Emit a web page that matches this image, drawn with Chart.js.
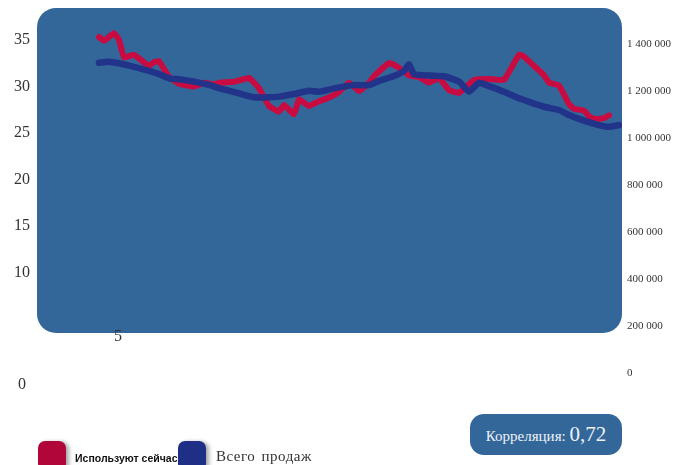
<!DOCTYPE html>
<html>
<head>
<meta charset="utf-8">
<script src="https://cdn.jsdelivr.net/npm/chart.js@4"></script>
<style>
    body { margin: 0; background: #fff; }
    .wrap { position: relative; width: 678px; height: 465px; overflow: hidden; }
    canvas { position: absolute; left: 0; top: 0; }
    .swatch { position: absolute; top: 441px; width: 28px; height: 30px; border-radius: 7px; box-shadow: 3px 1px 4px rgba(0,0,0,0.35); }
    .lbl { position: absolute; white-space: nowrap; }
    .corr { position: absolute; left: 470px; top: 414px; width: 152px; height: 41px; border-radius: 14px; background: #33679a; color: #eef2f7; font-family: "Liberation Serif", serif; font-size: 15px; line-height: 41px; text-align: center; }
    .corr b { font-weight: normal; font-size: 21px; }
</style>
</head>
<body>
<div class="wrap">
    <canvas id="chart" width="678" height="465"></canvas>
    <div class="lbl" style="left:75px; top:452px; font-family:'Liberation Sans',sans-serif; font-weight:bold; font-size:10.5px; color:#111;">Используют сейчас</div>
    <div class="swatch" style="left:38px; background:#b0063a;"></div>
    <div class="swatch" style="left:178px; background:#1e2f85;"></div>
    <div class="lbl" style="left:216px; top:448px; font-family:'Liberation Serif',serif; font-size:15px; letter-spacing:0.5px; word-spacing:2px; color:#333;">Всего продаж</div>
    <div class="corr">Корреляция: <b>0,72</b></div>
</div>
<script>
// неделя (условный номер) и доля тех, кто использует сейчас, %
const usingWeeks = [0, 1, 3, 4, 5, 7, 8, 10, 11, 12, 14, 16, 19, 21, 23, 24, 27, 30, 32, 34, 36, 37, 39, 40, 42, 44, 46, 48, 50, 52, 54, 55, 58, 60, 62, 64, 66, 68, 70, 72, 75, 78, 81, 84, 85, 87, 89, 90, 92, 94, 95, 97, 98, 99, 101, 102];
const usingNow = [35.3, 34.9, 35.7, 35.0, 33.1, 33.4, 33.0, 32.2, 32.6, 32.7, 31.0, 30.3, 30.0, 30.4, 30.2, 30.4, 30.5, 30.9, 29.8, 27.9, 27.3, 28.0, 27.0, 28.6, 27.9, 28.4, 28.8, 29.4, 30.4, 29.5, 30.4, 31.1, 32.5, 32.0, 31.2, 31.0, 30.4, 30.9, 29.6, 29.3, 30.7, 30.8, 30.7, 33.4, 33.2, 32.2, 31.2, 30.4, 30.1, 28.1, 27.6, 27.4, 26.8, 26.5, 26.6, 26.9];

// всего продаж
const salesWeeks = [0, 2, 4, 7, 10, 12, 14, 16, 19, 22, 24, 28, 31, 34, 36, 39, 42, 44, 47, 51, 54, 56, 59, 61, 62, 63, 66, 69, 72, 74, 76, 78, 81, 84, 86, 89, 92, 94, 97, 100, 102, 104];
const totalSales = [1320000, 1325000, 1318000, 1303000, 1286000, 1272000, 1254000, 1250000, 1240000, 1226000, 1212000, 1190000, 1173000, 1173000, 1176000, 1187000, 1201000, 1197000, 1211000, 1225000, 1225000, 1243000, 1264000, 1285000, 1313000, 1272000, 1266000, 1263000, 1240000, 1197000, 1235000, 1221000, 1197000, 1169000, 1154000, 1133000, 1119000, 1098000, 1074000, 1055000, 1048000, 1055000];

const leftTicks = [10, 15, 20, 25, 30, 35];
const rightTicks = [0, 200000, 400000, 600000, 800000, 1000000, 1200000, 1400000];

const plotBg = {
    id: 'plotBg',
    beforeDatasetsDraw(chart) {
        const { ctx, chartArea } = chart;
        const x = chartArea.left, y = chartArea.top;
        const w = chartArea.right - chartArea.left, h = 325, r = 19;
        ctx.save();
        ctx.fillStyle = '#33679a';
        ctx.beginPath();
        ctx.moveTo(x + r, y);
        ctx.arcTo(x + w, y, x + w, y + h, r);
        ctx.arcTo(x + w, y + h, x, y + h, r);
        ctx.arcTo(x, y + h, x, y, r);
        ctx.arcTo(x, y, x + w, y, r);
        ctx.closePath();
        ctx.fill();
        ctx.restore();
    },
    afterDraw(chart) {
        // подписи 5 и 0 на левой оси смещены, как в оригинале
        const ctx = chart.ctx;
        ctx.save();
        ctx.font = '16px "Liberation Serif", serif';
        ctx.fillStyle = '#333';
        ctx.textAlign = 'center';
        ctx.textBaseline = 'middle';
        ctx.fillText('5', 118, 337);
        ctx.fillText('0', 22, 385);
        ctx.restore();
    }
};

const toPoints = (xs, ys) => xs.map((x, i) => ({ x: x, y: ys[i] }));

function fixWidth(w) {
    return axis => {
        axis.width = w;
        axis.paddingTop = 0;
        axis.paddingBottom = 0;
    };
}

const chart = new Chart(document.getElementById('chart'), {
    type: 'line',
    data: {
        datasets: [{
            label: 'Всего продаж',
            data: toPoints(salesWeeks, totalSales),
            yAxisID: 'right',
            borderColor: '#22338a',
            borderWidth: 6.5,
            pointRadius: 0,
            borderJoinStyle: 'round',
            borderCapStyle: 'round',
            tension: 0.15
        }, {
            label: 'Используют сейчас',
            data: toPoints(usingWeeks, usingNow),
            yAxisID: 'left',
            borderColor: '#c80c42',
            borderWidth: 6,
            pointRadius: 0,
            borderJoinStyle: 'round',
            borderCapStyle: 'round',
            tension: 0.1
        }]
    },
    options: {
        responsive: false,
        animation: false,
        layout: { padding: { top: 8, bottom: 91, left: 0, right: 0 } },
        plugins: { legend: { display: false }, tooltip: { enabled: false } },
        scales: {
            x: { type: 'linear', display: false, min: -12.4, max: 104.6 },
            left: {
                position: 'left',
                min: -0.86,
                max: 38.41,
                afterBuildTicks: axis => { axis.ticks = leftTicks.map(v => ({ value: v })); },
                afterFit: fixWidth(37),
                grid: { display: false, drawTicks: false },
                border: { display: false },
                ticks: { padding: 7, color: '#333', font: { family: '"Liberation Serif", serif', size: 16 } }
            },
            right: {
                position: 'right',
                min: -4255,
                max: 1553200,
                afterBuildTicks: axis => { axis.ticks = rightTicks.map(v => ({ value: v })); },
                afterFit: fixWidth(56),
                grid: { display: false, drawTicks: false },
                border: { display: false },
                ticks: {
                    padding: 5,
                    color: '#333',
                    font: { family: '"Liberation Serif", serif', size: 11 },
                    callback: v => v.toLocaleString('ru-RU').replace(/\s/g, ' ')
                }
            }
        }
    },
    plugins: [plotBg]
});
</script>
</body>
</html>
